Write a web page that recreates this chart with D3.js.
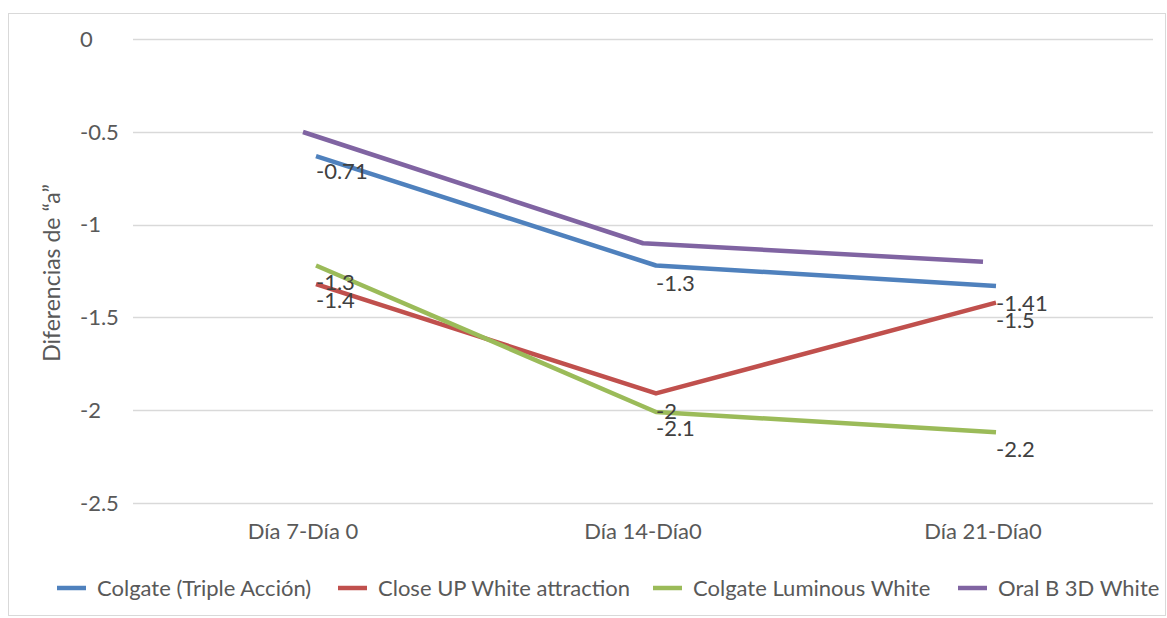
<!DOCTYPE html>
<html><head><meta charset="utf-8">
<script src="https://cdn.jsdelivr.net/npm/d3@7"></script>
<style>
html,body{margin:0;padding:0;background:#fff;}
svg{display:block;font-family:Lato,"Open Sans",sans-serif;}
</style></head>
<body>
<svg id="chart" width="1167" height="618"></svg>
<script>
// ---- data ----
const categories = ["Día 7-Día 0", "Día 14-Día0", "Día 21-Día0"];
const seriesNames = ["Colgate (Triple Acción)", "Close UP White attraction", "Colgate Luminous White", "Oral B 3D White"];
const colgateTriple = [-0.63, -1.22, -1.33];
const closeUp = [-1.32, -1.91, -1.42];
const colgateLuminous = [-1.22, -2.01, -2.12];
const oralB = [-0.50, -1.10, -1.20];
const labelsColgateTriple = ["-0.71", "-1.3", "-1.5"];
const labelsCloseUp = ["-1.4", "-2", "-1.41"];
const labelsColgateLuminous = ["-1.3", "-2.1", "-2.2"];
const labelsOralB = [];
const yTicks = [0, -0.5, -1, -1.5, -2, -2.5];
const yTitle = "Diferencias de “a”";

// ---- styles ----
const colors = ["#4F81BD", "#C0504D", "#9BBB59", "#8064A2"];
const seriesDx = [13, 13, 13, 0];
const labelDy = [[15, 18, 34], [16, 18, 1], [17, 16, 17], []];
const legendX = [57, 338, 653, 958];
const FS = 22;

const svg = d3.select("#chart");
const W = 1167, H = 618;
const plot = {left: 133, right: 1153, top: 39.3, bottom: 502.8};

// chart border
svg.append("rect").attr("x", 8.5).attr("y", 13.5).attr("width", W - 10).attr("height", H - 16)
  .attr("fill", "#fff").attr("stroke", "#d9d9d9").attr("stroke-width", 1);

const x = d3.scaleBand().domain(categories).range([plot.left, plot.right]);
const y = d3.scaleLinear().domain([-2.5, 0]).range([plot.bottom, plot.top]);

// gridlines
svg.append("g").selectAll("line").data(yTicks).join("line")
  .attr("x1", plot.left).attr("x2", plot.right)
  .attr("y1", d => Math.round(y(d)) + 0.5).attr("y2", d => Math.round(y(d)) + 0.5)
  .attr("stroke", "#d9d9d9").attr("stroke-width", 1.3);

// y tick labels (left aligned as in reference)
svg.append("g").selectAll("text").data(yTicks).join("text")
  .attr("x", 80).attr("y", d => y(d)).attr("dy", "0.35em")
  .attr("font-size", FS).attr("fill", "#595959")
  .text(d => d3.format("")(d).replace("−", "-"));

// x axis labels
const xAxis = d3.axisBottom(x).tickSize(0).tickPadding(0);
const gx = svg.append("g").attr("transform", `translate(0,${plot.bottom})`).call(xAxis);
gx.select(".domain").remove();
gx.selectAll("text").attr("font-size", FS).attr("fill", "#595959")
  .attr("font-family", "Lato, Open Sans, sans-serif").attr("dy", "0.35em").attr("y", 28.5);

// y title
svg.append("text").attr("transform", `translate(60,${273}) rotate(-90)`)
  .attr("text-anchor", "middle").attr("font-size", FS + 1).attr("fill", "#595959").text(yTitle);

const allValues = [colgateTriple, closeUp, colgateLuminous, oralB];
const allLabels = [labelsColgateTriple, labelsCloseUp, labelsColgateLuminous, labelsOralB];

const line = d3.line();
allValues.forEach((vals, i) => {
  const pts = vals.map((v, j) => [x(categories[j]) + x.bandwidth() / 2 + seriesDx[i], y(v)]);
  svg.append("path").attr("d", line(pts)).attr("fill", "none")
    .attr("stroke", colors[i]).attr("stroke-width", 4.5).attr("stroke-linejoin", "round");
});
allValues.forEach((vals, i) => {
  allLabels[i].forEach((t, j) => {
    svg.append("text")
      .attr("x", x(categories[j]) + x.bandwidth() / 2 + seriesDx[i])
      .attr("y", y(vals[j]) + labelDy[i][j]).attr("dy", "0.35em")
      .attr("font-size", FS).attr("fill", "#404040").text(t);
  });
});

// legend
const lg = svg.append("g");
seriesNames.forEach((n, i) => {
  lg.append("line").attr("x1", legendX[i]).attr("x2", legendX[i] + 29)
    .attr("y1", 588).attr("y2", 588).attr("stroke", colors[i]).attr("stroke-width", 4.5);
  lg.append("text").attr("x", legendX[i] + 40).attr("y", 588).attr("dy", "0.35em")
    .attr("font-size", FS).attr("fill", "#595959").text(n);
});
</script>
</body></html>
